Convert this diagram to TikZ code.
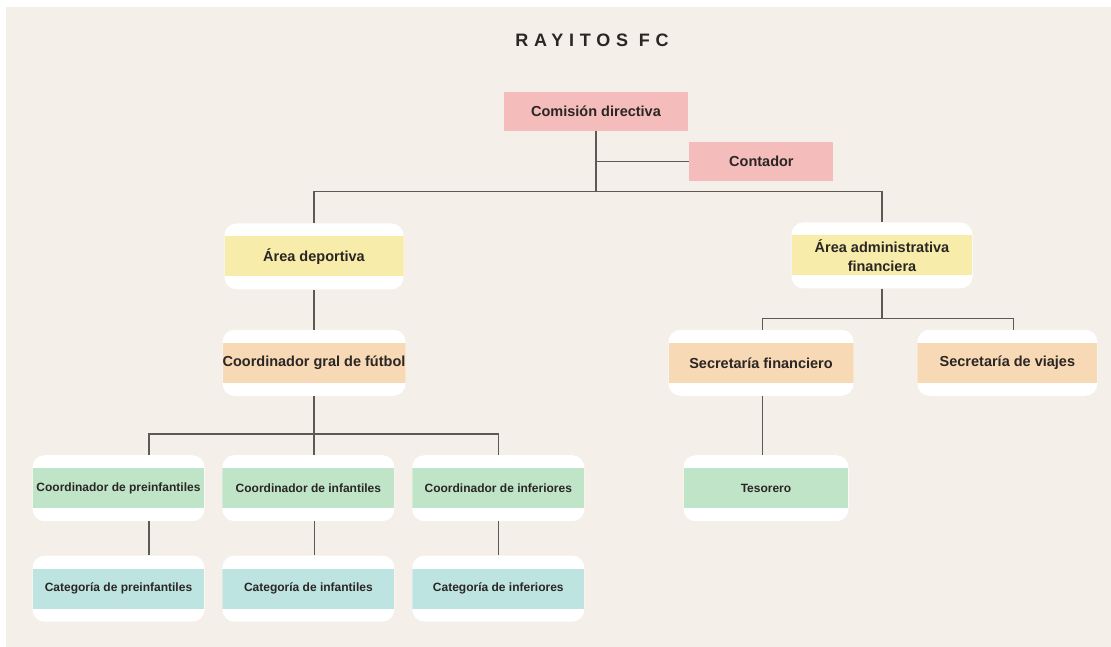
\documentclass[tikz,border=0pt]{standalone}
\usepackage{fontspec}
\setmainfont{Liberation Sans}
\newfontfamily\titlefont{Liberation Sans}[LetterSpace=32]
\usetikzlibrary{positioning}

\definecolor{paper}{HTML}{F4EFE9}
\definecolor{rosa}{HTML}{F4BCBA}
\definecolor{amarillo}{HTML}{F7ECA9}
\definecolor{durazno}{HTML}{F8D9B6}
\definecolor{verde}{HTML}{BFE4C7}
\definecolor{celeste}{HTML}{BEE4E2}
\definecolor{tinta}{HTML}{2A2624}
\definecolor{linea}{HTML}{5C5A58}

\begin{document}
\begin{tikzpicture}[x=1pt,y=-1pt,
  every node/.style={text=tinta},
  big/.style={font=\fontsize{14.5}{19}\selectfont\bfseries},
  small/.style={font=\fontsize{12}{14}\selectfont\bfseries},
  head/.style={rectangle, fill=#1, minimum width=184pt, minimum height=39pt, inner sep=0pt, big},
  card/.style={rectangle, rounded corners=12pt, fill=white, minimum height=66pt, inner sep=0pt, align=center,
    path picture={\fill[#1, sharp corners] ([yshift=-20pt]path picture bounding box.west) rectangle ([yshift=20pt]path picture bounding box.east);}},
  link/.style={draw=linea, line width=1.3pt}]

  % Paper

  \useasboundingbox (0,0) rectangle (1111,646);
  \fill[white] (0,0) rectangle (1111,646);
  \fill[paper] (6,7) rectangle (1130,660);

  % Nodes

  \node[font={\titlefont\fontsize{18}{20}\selectfont\bfseries}] (title) at (592,40) {RAYITOS FC} ; %
  \node[head=rosa] (cd) at (596,111.5) {Comisión directiva} ; %
  \node[head=rosa, minimum width=144pt, right=1pt of cd, yshift=-50pt] (cont) {Contador} ; %

  \node[card=amarillo, big, minimum width=179pt, below=92pt of cd, xshift=-282pt] (ad) {Área deportiva} ; %
  \node[card=amarillo, big, minimum width=181pt, below=91pt of cd, xshift=286pt] (aaf) {Área administrativa\\financiera} ; %
  \node[card=durazno, big, minimum width=183pt, below=40pt of ad] (cg) {Coordinador gral de fútbol} ; %
  \node[card=durazno, big, minimum width=185pt, below=41pt of aaf, xshift=-121pt] (sf) {Secretaría financiero} ; %
  \node[card=durazno, big, minimum width=180pt, right=63.5pt of sf] (sv) {Secretaría de viajes} ; %

  % More nodes
  \node[card=verde, small, minimum width=172pt, below=59pt of cg, xshift=-195.5pt] (cpre) {Coordinador de preinfantiles} ; %
  \node[card=verde, small, minimum width=172pt, right=17.5pt of cpre] (cinf) {Coordinador de infantiles} ; %
  \node[card=verde, small, minimum width=172pt, right=17.5pt of cinf] (cinfe) {Coordinador de inferiores} ; %
  \node[card=celeste, small, minimum width=172pt, below=34pt of cpre] (capre) {Categoría de preinfantiles} ; %
  \node[card=celeste, small, minimum width=172pt, below=34pt of cinf] (cainf) {Categoría de infantiles} ; %
  \node[card=celeste, small, minimum width=172pt, below=34pt of cinfe] (cainfe) {Categoría de inferiores} ; %
  \node[card=verde, small, minimum width=165pt, below=59pt of sf, xshift=5pt] (tes) {Tesorero} ; %

  % Links

  \draw[link] (cd.south) -- ++(0,60) coordinate (bus1) ; %
  \draw[link] (cd.south |- cont.west) -- (cont.west) ; %
  \draw[link] (ad.north) |- (bus1) -| (aaf.north) ; %
  \draw[link] (ad) -- (cg) ; %

  \draw[link] (cg.south) -- ++(0,38) coordinate (bus2) ; %
  \draw[link] ([xshift=30.5pt]cpre.north) |- (bus2) -| (cinfe.north) ; %
  \draw[link] (bus2) -- (bus2 |- cinf.north) ; %
  \draw[link] ([xshift=30.5pt]cpre.south) -- ([xshift=30.5pt]capre.north) ; %
  \draw[link] ([xshift=6pt]cinf.south) -- ([xshift=6pt]cainf.north) ; %
  \draw[link] (cinfe) -- (cainfe) ; %

  \draw[link] (aaf.south) -- ++(0,30) coordinate (bus3) ; %
  \draw[link] ([xshift=1.5pt]sf.north) |- (bus3) -| ([xshift=6pt]sv.north) ; %
  \draw[link] ([xshift=1.5pt]sf.south) -- ([xshift=1.5pt]sf.south |- tes.north) ; %

\end{tikzpicture}
\end{document}
